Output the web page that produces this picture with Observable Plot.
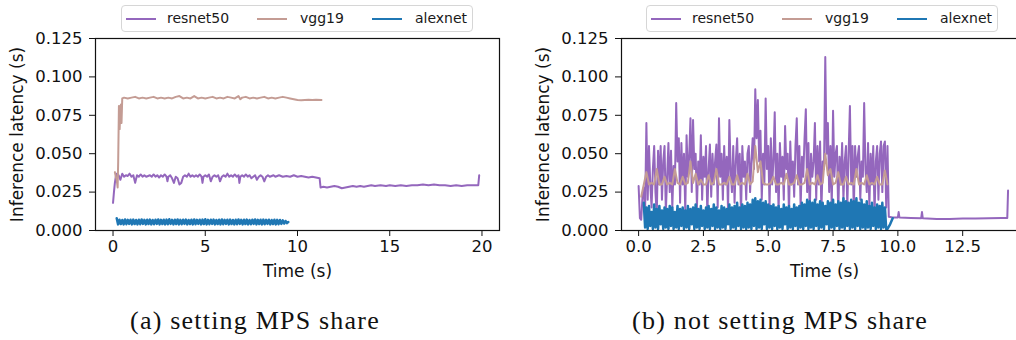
<!DOCTYPE html>
<html><head><meta charset="utf-8">
<script src="https://cdn.jsdelivr.net/npm/d3@7"></script>
<script src="https://cdn.jsdelivr.net/npm/@observablehq/plot@0.6"></script>
<style>
html,body{margin:0;padding:0;background:#fff;}
body{width:1016px;height:340px;overflow:hidden;position:relative;font-family:"DejaVu Sans",sans-serif;}
.panel{position:absolute;top:0;width:520px;height:280px;}
.panel svg{overflow:visible;max-width:none !important;}
.legend{position:absolute;top:5px;width:352px;height:27px;border:1px solid #d6d6d6;border-radius:4px;font-size:14px;color:#1a1a1a;box-sizing:border-box;background:#fff;white-space:nowrap;}
.sw{position:absolute;top:12px;width:30px;height:0;border-top:2px solid;}
.lt{position:absolute;top:3px;line-height:18px;}
.caption{position:absolute;top:306px;font-family:"Liberation Serif","DejaVu Serif",serif;font-size:26px;letter-spacing:1.2px;transform:translateX(-50%);white-space:nowrap;color:#111;}
</style>
</head><body>
<div id="pa" class="panel" style="left:0"></div>
<div id="pb" class="panel" style="left:508px"></div>
<div class="legend" style="left:121px" id="la"></div>
<div class="legend" style="left:646px" id="lb"></div>
<div class="caption" style="left:255px">(a) setting MPS share</div>
<div class="caption" style="left:780px">(b) not setting MPS share</div>
<script>
// ---- series names & colours ----
const seriesNames = ["resnet50", "vgg19", "alexnet"];
const seriesColors = ["#9467bd", "#c49c94", "#1f77b4"];
const yTicks = [0, 0.025, 0.05, 0.075, 0.1, 0.125];
const xTicksA = [0, 5, 10, 15, 20];
const xTicksB = [0, 2.5, 5, 7.5, 10, 12.5];

// ---- (a) setting MPS share : [time (s), latency (s)] ----
const resnetA = [[0,0.018],[0.05,0.025],[0.1,0.031],[0.15,0.035],[0.2,0.037],[0.3,0.036],[0.4,0.033],[0.5,0.037],[0.6,0.035],[0.7,0.036],[0.8,0.0355],[0.9,0.037],[1.0,0.035],[1.1,0.036],[1.2,0.031],[1.3,0.036],[1.4,0.035],[1.5,0.0365],[1.6,0.035],[1.7,0.036],[1.8,0.035],[1.9,0.0355],[2.0,0.036],[2.1,0.035],[2.2,0.0365],[2.3,0.035],[2.4,0.036],[2.5,0.0345],[2.6,0.036],[2.7,0.035],[2.8,0.0365],[2.9,0.035],[2.95,0.032],[3.0,0.035],[3.1,0.036],[3.2,0.034],[3.3,0.031],[3.4,0.035],[3.5,0.034],[3.6,0.030],[3.7,0.031],[3.8,0.035],[3.9,0.036],[4.0,0.035],[4.1,0.037],[4.2,0.035],[4.3,0.036],[4.4,0.035],[4.5,0.036],[4.6,0.035],[4.7,0.0365],[4.8,0.035],[4.85,0.031],[4.9,0.035],[5.0,0.036],[5.1,0.035],[5.2,0.0365],[5.3,0.032],[5.4,0.035],[5.5,0.036],[5.6,0.035],[5.7,0.036],[5.8,0.032],[5.9,0.035],[6.0,0.036],[6.1,0.035],[6.2,0.037],[6.3,0.035],[6.4,0.036],[6.5,0.035],[6.6,0.0365],[6.7,0.035],[6.8,0.036],[6.85,0.031],[6.9,0.035],[7.0,0.036],[7.1,0.035],[7.2,0.0365],[7.3,0.035],[7.4,0.036],[7.5,0.034],[7.6,0.035],[7.7,0.036],[7.8,0.033],[7.9,0.035],[8.0,0.036],[8.1,0.035],[8.2,0.032],[8.3,0.035],[8.4,0.036],[8.5,0.035],[8.6,0.0355],[8.7,0.036],[8.8,0.035],[8.9,0.0355],[9.0,0.036],[9.2,0.035],[9.4,0.0355],[9.6,0.035],[9.8,0.036],[10.0,0.035],[10.2,0.0355],[10.4,0.035],[10.6,0.0345],[10.8,0.035],[11.0,0.0345],[11.2,0.034],[11.25,0.028],[11.4,0.0285],[11.6,0.028],[11.8,0.0285],[12.0,0.029],[12.2,0.0285],[12.4,0.0275],[12.6,0.028],[12.8,0.0285],[13.0,0.029],[13.2,0.0285],[13.4,0.029],[13.6,0.0285],[13.8,0.029],[14.0,0.0295],[14.2,0.029],[14.5,0.0295],[14.8,0.029],[15.0,0.0295],[15.3,0.029],[15.6,0.0295],[15.9,0.029],[16.2,0.0295],[16.5,0.0295],[16.8,0.030],[17.1,0.0295],[17.4,0.030],[17.7,0.0295],[18.0,0.0295],[18.3,0.029],[18.6,0.0295],[18.9,0.029],[19.2,0.0295],[19.5,0.0295],[19.8,0.0295],[19.85,0.036]];

const vggA = [[0.1,0.038],[0.15,0.035],[0.2,0.033],[0.25,0.028],[0.28,0.045],[0.32,0.081],[0.36,0.066],[0.40,0.080],[0.43,0.082],[0.46,0.070],[0.5,0.086],[0.6,0.0865],[0.8,0.086],[1.0,0.0865],[1.2,0.087],[1.4,0.086],[1.6,0.0865],[1.8,0.086],[2.0,0.0865],[2.2,0.087],[2.4,0.086],[2.6,0.0865],[2.8,0.086],[3.0,0.0865],[3.2,0.086],[3.4,0.087],[3.6,0.0875],[3.8,0.086],[4.0,0.0865],[4.2,0.086],[4.4,0.0875],[4.6,0.086],[4.8,0.0865],[5.0,0.086],[5.2,0.0865],[5.4,0.087],[5.6,0.086],[5.8,0.0865],[6.0,0.086],[6.2,0.087],[6.4,0.0865],[6.6,0.086],[6.8,0.0875],[6.9,0.0855],[7.0,0.0865],[7.2,0.087],[7.4,0.086],[7.6,0.0865],[7.8,0.086],[8.0,0.0865],[8.2,0.087],[8.4,0.086],[8.6,0.0865],[8.8,0.086],[9.0,0.0865],[9.2,0.087],[9.4,0.0865],[9.6,0.086],[9.8,0.0855],[10.0,0.085],[10.2,0.0848],[10.4,0.085],[10.6,0.0852],[10.8,0.085],[11.0,0.0852],[11.3,0.085]];

// alexnet (a): samples from t = 0.2 s every 0.075 s
const alexA_t0 = 0.2, alexA_dt = 0.075;
const alexA = [0.008,0.004,0.007,0.0042,0.0068,0.004,0.0072,0.0041,0.0069,0.0043,0.007,0.004,0.0071,0.0042,0.0068,0.004,0.007,0.0041,0.0072,0.0043,0.0069,0.004,0.007,0.0042,0.0071,0.004,0.0068,0.0041,0.007,0.0043,0.0072,0.004,0.0069,0.0042,0.007,0.004,0.0071,0.0041,0.0073,0.0043,0.0069,0.004,0.007,0.0042,0.0072,0.004,0.0069,0.0041,0.007,0.0043,0.0071,0.004,0.0068,0.0042,0.007,0.004,0.0072,0.0041,0.0069,0.0043,0.007,0.004,0.0071,0.0042,0.0073,0.004,0.0069,0.0041,0.007,0.0043,0.0071,0.004,0.0068,0.0042,0.007,0.004,0.0072,0.0041,0.0069,0.0043,0.007,0.004,0.0071,0.0042,0.0068,0.004,0.007,0.0041,0.0072,0.0043,0.0069,0.004,0.007,0.0042,0.0071,0.004,0.0068,0.0041,0.007,0.0043,0.0072,0.004,0.0069,0.0042,0.007,0.004,0.0071,0.0041,0.0069,0.0043,0.007,0.004,0.0068,0.0042,0.007,0.004,0.0069,0.0041,0.0068,0.0043,0.0066,0.0045,0.0062,0.0048,0.0055];

// ---- (b) not setting MPS share ----
// resnet50 (b): samples from t = 0 every 0.05 s, then the tail as [time, latency]
const resnetB_t0 = 0, resnetB_dt = 0.05;
const resnetB = [0.029,0.008,0.007,0.022,0.028,0.012,0.070,0.020,0.055,0.030,
0.015,0.040,0.055,0.025,0.010,0.052,0.030,0.055,0.020,0.045,
0.055,0.012,0.035,0.057,0.025,0.052,0.015,0.042,0.030,0.083,
0.045,0.060,0.018,0.057,0.030,0.050,0.012,0.062,0.035,0.048,
0.073,0.025,0.072,0.040,0.050,0.015,0.045,0.030,0.062,0.020,
0.048,0.035,0.055,0.010,0.040,0.056,0.022,0.050,0.030,0.045,
0.056,0.015,0.073,0.035,0.050,0.020,0.055,0.030,0.048,0.012,
0.072,0.040,0.025,0.055,0.018,0.045,0.060,0.030,0.050,0.010,
0.055,0.035,0.045,0.020,0.050,0.055,0.025,0.045,0.060,0.040,
0.092,0.060,0.085,0.045,0.065,0.020,0.050,0.030,0.086,0.040,
0.055,0.015,0.060,0.030,0.045,0.077,0.025,0.050,0.012,0.057,
0.035,0.048,0.020,0.068,0.040,0.050,0.010,0.058,0.030,0.045,
0.022,0.055,0.073,0.030,0.055,0.015,0.048,0.035,0.060,0.079,
0.025,0.057,0.010,0.050,0.035,0.045,0.070,0.020,0.055,0.030,
0.058,0.012,0.045,0.040,0.113,0.050,0.070,0.025,0.055,0.015,
0.078,0.035,0.050,0.055,0.010,0.048,0.030,0.057,0.020,0.045,
0.055,0.015,0.050,0.081,0.030,0.055,0.012,0.055,0.035,0.048,
0.055,0.020,0.045,0.035,0.083,0.040,0.025,0.057,0.015,0.050,
0.030,0.055,0.010,0.045,0.055,0.020,0.050,0.058,0.025,0.055,
0.058,0.015,0.055];
const resnetBTail = [[9.65,0.009],[9.8,0.0085],[10.0,0.0085],[10.03,0.012],[10.06,0.0085],[10.5,0.0082],[10.9,0.008],[10.93,0.012],[10.96,0.008],[11.5,0.0075],[12.0,0.0075],[12.5,0.0078],[13.0,0.0078],[13.5,0.008],[14.0,0.0082],[14.22,0.0082],[14.25,0.026]];

// vgg19 (b): samples from t = 0.1 s every 0.1 s
const vggB_t0 = 0.1, vggB_dt = 0.1;
const vggB = [0.022,0.030,0.038,0.030,0.031,0.030,0.040,0.030,0.030,0.035,
0.030,0.031,0.030,0.040,0.031,0.030,0.035,0.030,0.031,0.045,
0.031,0.037,0.030,0.033,0.030,0.030,0.036,0.030,0.031,0.040,
0.030,0.030,0.031,0.030,0.035,0.030,0.030,0.036,0.030,0.031,
0.030,0.037,0.030,0.032,0.055,0.038,0.045,0.031,0.030,0.030,
0.031,0.035,0.030,0.030,0.031,0.030,0.037,0.030,0.030,0.031,
0.036,0.030,0.030,0.031,0.040,0.030,0.031,0.030,0.036,0.030,
0.031,0.050,0.036,0.040,0.030,0.031,0.038,0.030,0.030,0.035,
0.030,0.031,0.030,0.040,0.030,0.031,0.030,0.036,0.030,0.031,
0.030,0.035,0.030,0.030,0.039,0.030];

// alexnet (b): samples from t = 0.2 s every 0.05 s, then the tail
const alexB_t0 = 0.2, alexB_dt = 0.05;
const alexB = [0.018,0.002,0.015,0.001,0.016,0.003,0.012,0.001,0.017,0.002,
0.014,0.001,0.016,0.004,0.013,0.001,0.015,0.002,0.014,0.001,
0.016,0.003,0.015,0.001,0.012,0.002,0.016,0.001,0.014,0.003,
0.015,0.001,0.013,0.002,0.016,0.001,0.014,0.004,0.015,0.001,
0.017,0.002,0.014,0.001,0.016,0.003,0.013,0.001,0.015,0.002,
0.016,0.001,0.014,0.003,0.017,0.001,0.015,0.002,0.013,0.001,
0.016,0.002,0.015,0.001,0.014,0.004,0.017,0.001,0.015,0.002,
0.016,0.001,0.018,0.003,0.015,0.001,0.017,0.002,0.016,0.001,
0.018,0.002,0.017,0.001,0.020,0.003,0.021,0.001,0.019,0.002,
0.020,0.001,0.018,0.004,0.019,0.001,0.017,0.002,0.016,0.001,
0.017,0.003,0.015,0.001,0.016,0.002,0.014,0.001,0.017,0.004,
0.015,0.001,0.016,0.002,0.014,0.001,0.017,0.003,0.015,0.001,
0.016,0.002,0.018,0.001,0.017,0.003,0.020,0.001,0.019,0.002,
0.018,0.001,0.020,0.003,0.017,0.001,0.019,0.002,0.018,0.001,
0.016,0.004,0.019,0.001,0.018,0.002,0.020,0.001,0.017,0.003,
0.019,0.001,0.018,0.002,0.021,0.001,0.019,0.003,0.018,0.001,
0.020,0.002,0.019,0.001,0.021,0.003,0.018,0.001,0.020,0.002,
0.017,0.001,0.019,0.002,0.016,0.001,0.018,0.003,0.015,0.001,
0.017,0.002,0.016,0.001,0.018,0.002,0.015,0.001,0.001];
const alexBTail = [[9.7,0.004],[9.8,0.008]];

// ---- build tables ----
const uni = (vals, t0, dt) => vals.map((v, i) => [t0 + i * dt, v]);
const A = {
  resnet50: resnetA,
  vgg19: vggA,
  alexnet: uni(alexA, alexA_t0, alexA_dt)
};
const B = {
  resnet50: uni(resnetB, resnetB_t0, resnetB_dt).concat(resnetBTail),
  vgg19: uni(vggB, vggB_t0, vggB_dt),
  alexnet: uni(alexB, alexB_t0, alexB_dt).concat(alexBTail)
};
const widths = {resnet50: 2, vgg19: 2, alexnet: 2.5};

function panel(data, opts) {
  return Plot.plot({
    width: opts.width, height: 280,
    marginLeft: opts.marginLeft, marginRight: opts.marginRight, marginTop: 38, marginBottom: 50,
    style: {fontFamily: "DejaVu Sans", fontSize: "16.5px", color: "#111", background: "transparent"},
    x: {domain: opts.xDomain},
    y: {domain: [0, 0.125]},
    marks: [
      ...seriesNames.map((s, i) => Plot.line(data[s], {x: d => d[0], y: d => d[1], stroke: seriesColors[i], strokeWidth: widths[s], strokeLinejoin: "round"})),
      Plot.frame({stroke: "#111", strokeWidth: 1.2}),
      Plot.axisX({ticks: opts.xTicks, tickFormat: opts.xFormat, tickSize: 6, tickPadding: 4, fontSize: 16.5, label: null}),
      Plot.axisX({ticks: [], tickSize: 0, fontSize: 17, label: "Time (s)", labelAnchor: "center", labelOffset: 46, labelArrow: "none"}),
      Plot.axisY({ticks: yTicks, tickFormat: d3.format(".3f"), tickSize: 6, tickPadding: 7, fontSize: 16.5, label: null}),
      Plot.axisY({ticks: [], tickSize: 0, fontSize: 17, label: "Inference latency (s)", labelAnchor: "center", labelOffset: 85, labelArrow: "none"})
    ]
  });
}

document.getElementById("pa").appendChild(panel(A, {width: 508, marginLeft: 95, marginRight: 9, xDomain: [-0.95, 20.95], xTicks: xTicksA, xFormat: d3.format("d")}));
document.getElementById("pb").appendChild(panel(B, {width: 520, marginLeft: 113, marginRight: 1, xDomain: [-0.66, 15.0], xTicks: xTicksB, xFormat: d3.format(".1f")}));

// legend entries: swatch and label offsets inside the legend box
const swLeft = [4, 135, 250], txLeft = [45, 178, 293];
for (const id of ["la", "lb"]) {
  const el = document.getElementById(id);
  seriesNames.forEach((s, i) => {
    const sw = document.createElement("span");
    sw.className = "sw";
    sw.style.left = swLeft[i] + "px";
    sw.style.borderTopColor = seriesColors[i];
    const tx = document.createElement("span");
    tx.className = "lt";
    tx.style.left = txLeft[i] + "px";
    tx.textContent = s;
    el.appendChild(sw); el.appendChild(tx);
  });
}
</script>
</body></html>
